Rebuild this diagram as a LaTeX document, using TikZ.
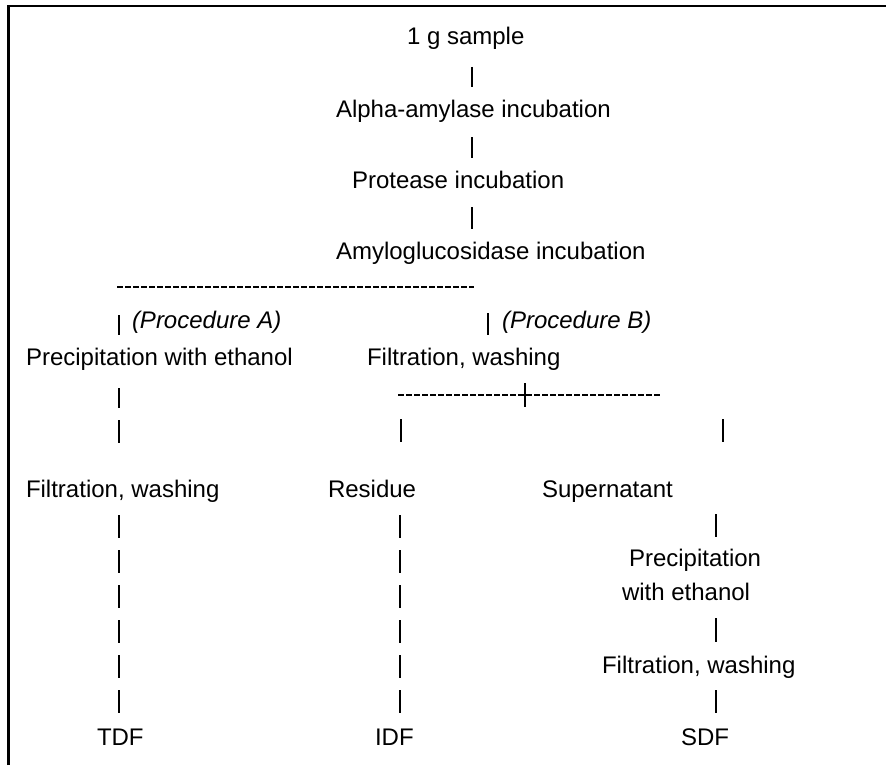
\documentclass[tikz,border=0pt]{standalone}
\usepackage{fontspec}
\setmainfont{Liberation Sans}
\begin{document}
\begin{tikzpicture}[x=0.5pt,y=-0.5pt,
  txt/.style={anchor=base west, inner sep=0pt, outer sep=0pt, font=\fontsize{12pt}{14pt}\selectfont},
  itxt/.style={txt, font=\fontsize{12pt}{14pt}\selectfont\itshape},
  bar/.style={line width=1pt},
  hy/.style={line width=0.8pt, dash pattern=on 2.75pt off 1.25pt},
  barrun/.style={line width=1pt, dash pattern=on 11.5pt off 6pt},
  frame/.style={line width=1.25pt}]
\useasboundingbox (0,0) rectangle (886,765);
% frame (top and left only)
\coordinate (fl) at (8.5,765);
\coordinate (fc) at (8.5,6);
\coordinate (fr) at (886,6);
\draw[frame] (fl) -- (fc) -- (fr);

% texts
\node[txt] (sample) at (407,45) {1 g sample};
\node[txt] (alpha) at (336,117) {Alpha-amylase incubation};
\node[txt] (protease) at (352,188) {Protease incubation};
\node[txt] (amylo) at (336,259) {Amyloglucosidase incubation};
\node[itxt] (procA) at (132,328) {(Procedure A)};
\node[itxt] (procB) at (502,328) {(Procedure B)};
\node[txt] (precA) at (26,365) {Precipitation with ethanol};
\node[txt] (filtB) at (367,365) {Filtration, washing};
\node[txt] (filtA) at (26,497) {Filtration, washing};
\node[txt] (residue) at (328,497) {Residue};
\node[txt] (super) at (542,497) {Supernatant};
\node[txt] (precS) at (629,566) {Precipitation};
\node[txt] (precS2) at (622,600) {with ethanol};
\node[txt] (filtS) at (602,673) {Filtration, washing};
\node[txt] (tdf) at (97,745) {TDF};
\node[txt] (idf) at (375,745) {IDF};
\node[txt] (sdf) at (681,745) {SDF};

% central chain
\coordinate (c1a) at (472,67);  \coordinate (c1b) at (472,87);
\coordinate (c2a) at (472,137); \coordinate (c2b) at (472,158);
\coordinate (c3a) at (472,207); \coordinate (c3b) at (472,229);
\draw[bar] (c1a) -- (c1b);
\draw[bar] (c2a) -- (c2b);
\draw[bar] (c3a) -- (c3b);

% split line
\coordinate (sA) at (117,287); \coordinate (sB) at (474,287);
\draw[hy] (sA) -- (sB);

% procedure bars
\coordinate (pAa) at (119,315); \coordinate (pAb) at (119,335);
\coordinate (pBa) at (488,313); \coordinate (pBb) at (488,335);
\draw[bar] (pAa) -- (pAb);
\draw[bar] (pBa) -- (pBb);

% column A
\coordinate (a1a) at (119,388); \coordinate (a1b) at (119,408);
\coordinate (a2a) at (119,420); \coordinate (a2b) at (119,443);
\draw[bar] (a1a) -- (a1b);
\draw[bar] (a2a) -- (a2b);
\coordinate (a3a) at (119,515); \coordinate (a3b) at (119,713);
\draw[barrun] (a3a) -- (a3b);

% procedure B split
\coordinate (sBl) at (398,395); \coordinate (sBr) at (662,395);
\draw[hy] (sBl) -- (sBr);
\coordinate (mBa) at (525,383); \coordinate (mBb) at (525,407);
\draw[bar] (mBa) -- (mBb);

% residue column
\coordinate (r1a) at (401,419); \coordinate (r1b) at (401,442);
\draw[bar] (r1a) -- (r1b);
\coordinate (r2a) at (400,515); \coordinate (r2b) at (400,713);
\draw[barrun] (r2a) -- (r2b);

% supernatant column
\coordinate (s1a) at (723,419); \coordinate (s1b) at (723,442);
\draw[bar] (s1a) -- (s1b);
\coordinate (s2a) at (716,514); \coordinate (s2b) at (716,537);
\draw[bar] (s2a) -- (s2b);
\coordinate (s3a) at (716,618); \coordinate (s3b) at (716,642);
\draw[bar] (s3a) -- (s3b);
\coordinate (s4a) at (716,690); \coordinate (s4b) at (716,713);
\draw[bar] (s4a) -- (s4b);
\end{tikzpicture}
\end{document}
